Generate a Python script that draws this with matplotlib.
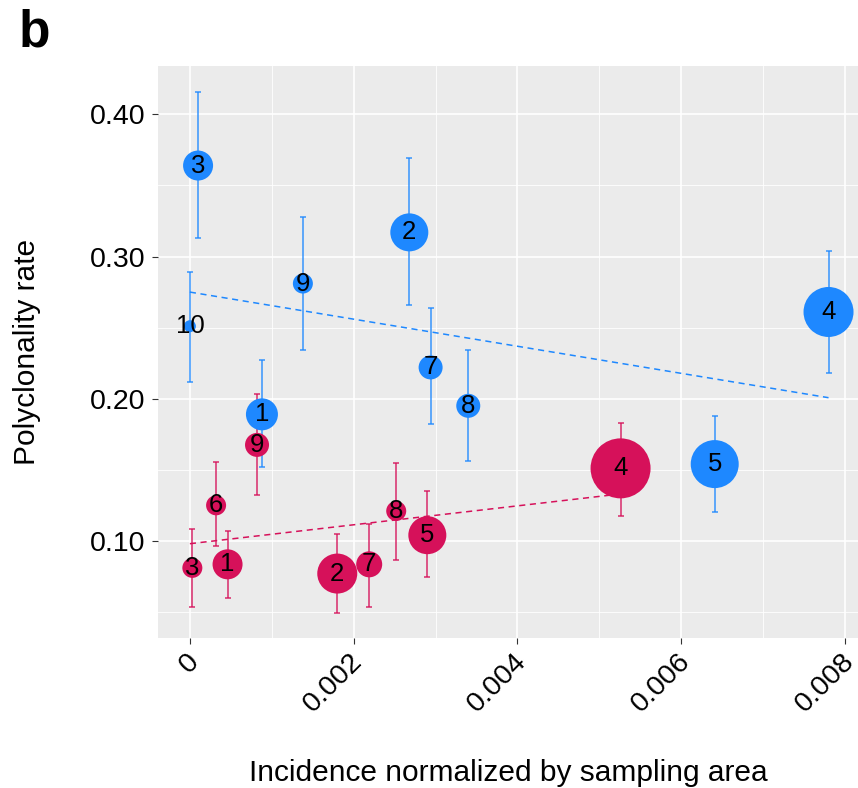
import matplotlib.pyplot as plt
import matplotlib.transforms as mtransforms
import numpy as np

plt.rcParams['font.family'] = ['Liberation Sans', 'DejaVu Sans']

# blue group
blue_id = ['3', '2', '9', '10', '7', '8', '1', '4', '5']
blue_x = [0.0001, 0.00268, 0.00138, 0.0, 0.00294, 0.0034, 0.00088, 0.0078, 0.00641]
blue_y = [0.364, 0.317, 0.281, 0.251, 0.222, 0.195, 0.189, 0.261, 0.154]
blue_lo = [0.313, 0.266, 0.234, 0.212, 0.182, 0.156, 0.152, 0.218, 0.120]
blue_hi = [0.416, 0.369, 0.328, 0.289, 0.264, 0.234, 0.227, 0.304, 0.188]
blue_n = [15, 19, 10, 6, 12, 12, 16, 25, 24]

# red group
red_id = ['3', '1', '6', '9', '2', '7', '8', '5', '4']
red_x = [0.00003, 0.00046, 0.00032, 0.00082, 0.0018, 0.00219, 0.00252, 0.0029, 0.00526]
red_y = [0.081, 0.0835, 0.125, 0.1675, 0.077, 0.0835, 0.121, 0.104, 0.151]
red_lo = [0.0535, 0.060, 0.0965, 0.132, 0.049, 0.0535, 0.0866, 0.0746, 0.1176]
red_hi = [0.108, 0.107, 0.1556, 0.203, 0.105, 0.112, 0.155, 0.135, 0.183]
red_n = [10, 15, 10, 12, 20, 13, 10, 19, 30]

# fitted trend lines (endpoints)
blue_fit_x = [0.0, 0.0078]
blue_fit_y = [0.275, 0.2007]
red_fit_x = [0.0, 0.00526]
red_fit_y = [0.098, 0.133]

blue = '#1E88FF'
red = '#D6115A'

fig = plt.figure(figsize=(8.58, 7.88), dpi=100)
ax = fig.add_axes([0.1841, 0.1904, 0.8159, 0.7258])
ax.set_facecolor('#EBEBEB')
for s in ax.spines.values():
    s.set_visible(False)


def draw_group(xs, ys, lo, hi, n, ids, col):
    xs = np.array(xs); ys = np.array(ys)
    ax.errorbar(xs, ys, yerr=[ys - np.array(lo), np.array(hi) - ys], fmt='none',
                ecolor=col, elinewidth=1.3, capsize=2, capthick=1.3, alpha=0.75, zorder=3)
    r_pt = np.array(n) * 0.72
    ax.scatter(xs, ys, s=(2 * r_pt) ** 2, color=col, edgecolors='none', zorder=4)
    for x, y, t in zip(xs, ys, ids):
        ax.text(x, y, t, ha='center', va='center', fontsize=18.5, color='black', zorder=5)


ax.plot(blue_fit_x, blue_fit_y, color=blue, ls=(0, (4, 3)), lw=1.1, zorder=2)
ax.plot(red_fit_x, red_fit_y, color=red, ls=(0, (4, 3)), lw=1.1, zorder=2)
draw_group(blue_x, blue_y, blue_lo, blue_hi, blue_n, blue_id, blue)
draw_group(red_x, red_y, red_lo, red_hi, red_n, red_id, red)

ax.set_xlim(-0.00039, 0.00816)
ax.set_ylim(0.0317, 0.434)
ax.set_xticks([0, 0.002, 0.004, 0.006, 0.008])
ax.set_xticklabels(['0', '0.002', '0.004', '0.006', '0.008'], rotation=45, ha='right',
                   rotation_mode='anchor')
ax.set_yticks([0.1, 0.2, 0.3, 0.4])
ax.set_yticklabels(['0.10', '0.20', '0.30', '0.40'])
ax.set_xticks([0.001, 0.003, 0.005, 0.007], minor=True)
ax.set_yticks([0.05, 0.15, 0.25, 0.35], minor=True)
ax.tick_params(which='major', labelsize=20.5, length=4, color='#333333', labelcolor='black')
ax.tick_params(axis='y', pad=5)
ax.tick_params(which='minor', length=0)
ax.grid(which='major', color='white', lw=1.2)
ax.grid(which='minor', color='white', lw=0.6)
ax.set_axisbelow(True)

# nudge rotated x labels a little left so the last one stays inside the figure
shift = mtransforms.ScaledTranslation(-4 / 100, 0, fig.dpi_scale_trans)
for lab in ax.get_xticklabels():
    lab.set_transform(lab.get_transform() + shift)

ax.set_xlabel('Incidence normalized by sampling area', fontsize=21.5, labelpad=30)
ax.set_ylabel('Polyclonality rate', fontsize=21.5, labelpad=35)
fig.text(0.022, 0.958, 'b', fontsize=37, fontweight='bold', va='center')

fig.savefig('out.png', dpi=100)
